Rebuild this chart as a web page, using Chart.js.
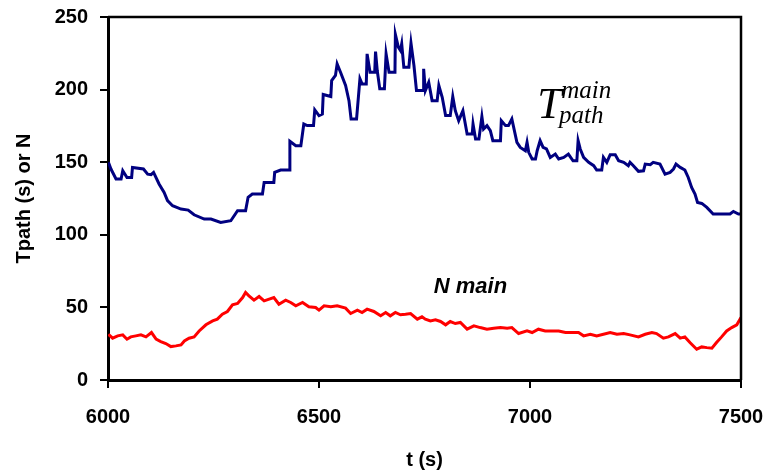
<!DOCTYPE html>
<html>
<head>
<meta charset="utf-8">
<script src="https://cdn.jsdelivr.net/npm/chart.js@4/dist/chart.umd.min.js"></script>
<style>
  html, body { margin: 0; padding: 0; background: #fff; }
  #wrap { width: 768px; height: 476px; }
</style>
</head>
<body>
<div id="wrap"><canvas id="chart"></canvas></div>
<script>
// T_path^main (time in s, value in s)
const tpathTime = [6001, 6007, 6019, 6031, 6035, 6045, 6056, 6058, 6084, 6094, 6102, 6108, 6121, 6133, 6141, 6153, 6173, 6190, 6204, 6228, 6244, 6267, 6291, 6307, 6326, 6332, 6342, 6366, 6370, 6393, 6395, 6409, 6429, 6431, 6445, 6457, 6464, 6472, 6487, 6490, 6500, 6508, 6510, 6528, 6530, 6539, 6543, 6551, 6563, 6571, 6576, 6589, 6597, 6602, 6612, 6614, 6621, 6632, 6634, 6638, 6644, 6655, 6659, 6666, 6680, 6681, 6688, 6693, 6696, 6701, 6713, 6718, 6725, 6731, 6747, 6748, 6752, 6760, 6768, 6780, 6784, 6792, 6800, 6811, 6817, 6823, 6831, 6841, 6851, 6863, 6865, 6871, 6879, 6886, 6890, 6898, 6906, 6912, 6930, 6932, 6942, 6949, 6957, 6969, 6977, 6989, 6993, 6997, 7005, 7013, 7017, 7024, 7031, 7039, 7048, 7060, 7068, 7080, 7091, 7102, 7111, 7114, 7119, 7127, 7139, 7151, 7158, 7170, 7174, 7182, 7190, 7202, 7210, 7222, 7233, 7237, 7245, 7257, 7269, 7273, 7285, 7292, 7308, 7320, 7332, 7340, 7346, 7356, 7367, 7375, 7383, 7391, 7397, 7407, 7419, 7434, 7474, 7482, 7494, 7500];
const tpathValue = [149.9, 145.3, 138.4, 138.4, 144.1, 139.5, 139.5, 146.4, 145.3, 141.8, 141.4, 143, 135, 129.2, 123.5, 120, 117.7, 117, 113.8, 110.8, 110.8, 108.5, 109.7, 116.6, 116.6, 125.8, 128.1, 128.1, 136.1, 136.1, 143, 144.6, 144.6, 164.4, 161.4, 161.4, 176.3, 175.2, 175.2, 186, 182.1, 183.2, 196.6, 195.2, 206.2, 209.7, 217.7, 212, 202.8, 192.4, 179.8, 179.8, 207.4, 203.9, 203.9, 224.6, 212, 212, 226.2, 213.1, 200.5, 200.5, 224.6, 212, 212, 238, 229.2, 226.9, 231.5, 215.4, 215.4, 232, 216.6, 199.3, 199.3, 214.3, 199.3, 205, 192.4, 192.4, 202.8, 194.7, 182.1, 182.1, 195.2, 185.5, 178.6, 185.5, 169.4, 169.4, 176.3, 166, 166, 181.4, 172.9, 175.2, 171.7, 164.8, 164.8, 178.6, 175.2, 175.2, 179.8, 163.7, 160.2, 157.9, 163.7, 156.8, 152.2, 152.2, 157.9, 164.8, 160.2, 159.1, 153.3, 155.6, 152.2, 153.3, 155.6, 151, 151, 164.8, 159.1, 153.3, 149.9, 147.6, 144.6, 144.6, 153.3, 149.9, 155.2, 155.2, 151, 149.9, 147.6, 149.9, 147.6, 143.7, 144.1, 148.7, 148.3, 149.9, 148.7, 141.8, 143, 145.3, 148.7, 146.4, 144.6, 139.5, 132.6, 128.1, 122.3, 121.6, 118.9, 114.3, 114.3, 116.1, 114.3, 114.3];

// N main
const nTime = [6001, 6011, 6023, 6035, 6045, 6054, 6066, 6078, 6090, 6103, 6114, 6125, 6137, 6149, 6161, 6173, 6181, 6192, 6204, 6216, 6232, 6248, 6259, 6271, 6283, 6295, 6307, 6319, 6326, 6334, 6346, 6358, 6370, 6382, 6393, 6405, 6421, 6433, 6445, 6461, 6476, 6492, 6500, 6512, 6528, 6543, 6563, 6575, 6591, 6602, 6614, 6630, 6646, 6658, 6669, 6681, 6693, 6705, 6717, 6733, 6744, 6752, 6764, 6776, 6788, 6800, 6811, 6823, 6835, 6851, 6867, 6882, 6898, 6914, 6930, 6946, 6957, 6973, 6993, 7005, 7020, 7036, 7052, 7068, 7084, 7099, 7115, 7127, 7143, 7158, 7174, 7190, 7206, 7222, 7237, 7257, 7273, 7289, 7300, 7316, 7328, 7344, 7356, 7367, 7379, 7395, 7407, 7419, 7431, 7442, 7454, 7466, 7478, 7490, 7500];
const nValue = [31.5, 28.8, 30.4, 31.1, 28.1, 29.7, 30.4, 31.1, 29.7, 32.7, 28.1, 26.5, 25.1, 23, 23.5, 24.2, 26.9, 28.8, 29.7, 33.8, 38, 40.7, 41.9, 45.3, 47.2, 51.8, 52.7, 56.8, 60.3, 58, 55, 57.5, 54.5, 55.7, 56.8, 52.2, 55, 53.4, 51.1, 53.4, 50.4, 49.9, 48.1, 51.1, 50.4, 51.1, 49.5, 45.8, 48.1, 46.5, 48.8, 47.2, 44.2, 46.5, 44.2, 46.5, 44.9, 45.3, 45.8, 41.9, 43.5, 41.9, 40.7, 41.4, 40.3, 38, 40.3, 38.9, 39.6, 35, 37.3, 36.1, 35, 35.7, 36.1, 35.7, 36.1, 32, 33.8, 32.7, 35, 33.8, 33.8, 33.8, 32.7, 32.7, 32.7, 30.4, 31.5, 30.4, 31.5, 32.7, 31.5, 32, 31.1, 29.7, 31.5, 32.7, 32, 28.8, 29.7, 32, 28.8, 29.7, 25.8, 21.2, 22.8, 22.3, 21.9, 25.8, 29.7, 33.8, 36.1, 38, 43];

const xTicks = [6000, 6500, 7000, 7500];
const yTicks = [0, 50, 100, 150, 200, 250];

function pairs(xs, ys) {
  return xs.map((x, i) => ({ x: x, y: ys[i] }));
}

// frame on top/right plus the two in-plot labels
const extras = {
  id: "extras",
  afterDatasetsDraw(chart) {
    const c = chart.ctx;
    const a = chart.chartArea;
    const sx = chart.scales.x;
    const sy = chart.scales.y;
    c.save();
    c.strokeStyle = "#000";
    c.lineWidth = 2.5;
    c.beginPath();
    c.moveTo(a.left, a.top);
    c.lineTo(a.right, a.top);
    c.lineTo(a.right, a.bottom);
    c.stroke();

    c.fillStyle = "#000";
    c.textBaseline = "alphabetic";
    c.textAlign = "left";
    c.font = "italic 44px 'Liberation Serif'";
    c.fillText("T", sx.getPixelForValue(7017), sy.getPixelForValue(180.7));
    c.font = "italic 25px 'Liberation Serif'";
    c.fillText("main", sx.getPixelForValue(7074), sy.getPixelForValue(194.5));
    c.fillText("path", sx.getPixelForValue(7069), sy.getPixelForValue(177));

    c.font = "italic bold 22px 'Liberation Sans'";
    c.fillText("N main", sx.getPixelForValue(6772), sy.getPixelForValue(60));
    c.restore();
  },
};

window.onload = function () {
  const ctx = document.getElementById("chart").getContext("2d");
  const tickFont = { family: "'Liberation Sans'", size: 20, weight: "bold" };

  new Chart(ctx, {
    type: "line",
    data: {
      datasets: [
        {
          label: "Tpath main",
          data: pairs(tpathTime, tpathValue),
          borderColor: "#000080",
          borderWidth: 3,
          pointRadius: 0,
          tension: 0,
        },
        {
          label: "N main",
          data: pairs(nTime, nValue),
          borderColor: "#ff0000",
          borderWidth: 3,
          pointRadius: 0,
          tension: 0,
        },
      ],
    },
    options: {
      responsive: true,
      maintainAspectRatio: false,
      animation: false,
      events: [],
      layout: { padding: { top: 17, right: 27, bottom: 0, left: 0 } },
      plugins: {
        legend: { display: false },
        tooltip: { enabled: false },
      },
      scales: {
        x: {
          type: "linear",
          min: 6000,
          max: 7500,
          afterBuildTicks: (s) => { s.ticks = xTicks.map((v) => ({ value: v })); },
          afterFit: (s) => {
            s.height = 96;
            s.paddingLeft = 0;
            s.paddingRight = 0;
          },
          ticks: { color: "#000", font: tickFont, padding: 17, maxRotation: 0, callback: (v) => String(v) },
          grid: { drawOnChartArea: false, drawTicks: true, tickLength: 8, color: "#000", lineWidth: 2 },
          border: { display: true, color: "#000", width: 3 },
          title: { display: true, text: "t (s)", color: "#000", font: tickFont, padding: { top: 0, bottom: 4 } },
        },
        y: {
          min: 0,
          max: 250,
          afterBuildTicks: (s) => { s.ticks = yTicks.map((v) => ({ value: v })); },
          afterFit: (s) => {
            s.width = 108;
            s.paddingTop = 0;
            s.paddingBottom = 0;
          },
          ticks: { color: "#000", font: tickFont, padding: 12 },
          grid: { drawOnChartArea: false, drawTicks: true, tickLength: 8, color: "#000", lineWidth: 2 },
          border: { display: true, color: "#000", width: 3 },
          title: { display: true, text: "Tpath (s) or N", color: "#000", font: tickFont, padding: { top: 12, bottom: 0 } },
        },
      },
    },
    plugins: [extras],
  });
};
</script>
</body>
</html>
